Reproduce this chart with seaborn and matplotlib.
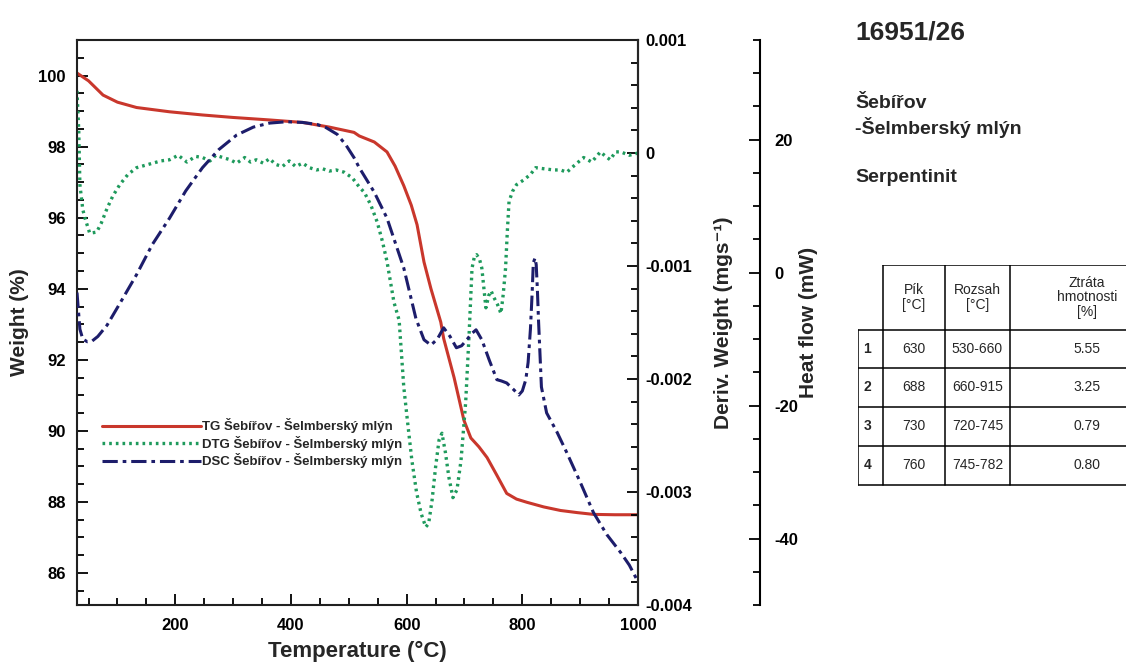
import seaborn as sns
import matplotlib.pyplot as plt
import pandas as pd
import numpy as np
from matplotlib.ticker import MultipleLocator, FixedLocator

# TG curve - weight (%)
tg_temp = [30, 50, 75, 100, 133, 190, 247, 300, 363, 420, 466, 509, 518, 544, 566, 580, 595,
           608, 618, 630, 642, 659, 664, 682, 699, 711, 725, 739, 756, 773, 790, 808, 837, 866,
           895, 923, 960, 1000]
tg_weight = [100.07, 99.85, 99.45, 99.25, 99.1, 98.98, 98.89, 98.82, 98.75, 98.68, 98.55, 98.4,
             98.3, 98.13, 97.85, 97.45, 96.9, 96.35, 95.8, 94.75, 94.0, 93.06, 92.6, 91.5,
             90.3, 89.8, 89.55, 89.25, 88.75, 88.24, 88.08, 87.99, 87.86, 87.76, 87.7, 87.65,
             87.64, 87.64]

# DTG curve - deriv. weight (mg/s)
dtg_temp = [30, 33, 35, 40, 44, 52, 64, 72, 82, 92, 104, 118, 133, 147, 161, 175, 190, 205, 220,
            235, 247, 260, 270, 282, 295, 306, 320, 330, 340, 352, 363, 373, 385, 397, 408, 420,
            432, 444, 455, 466, 478, 492, 506, 518, 527, 538, 549, 558, 566, 578, 587, 595, 602,
            609, 617, 625, 633, 638, 644, 650, 656, 661, 667, 673, 680, 687, 694, 702, 708, 713,
            717, 721, 726, 730, 737, 742, 746, 751, 757, 763, 767, 771, 774, 777, 783, 790, 802,
            814, 823, 838, 854, 866, 877, 890, 906, 920, 935, 944, 952, 961, 970, 985, 1000]
dtg_deriv = [0.00055, 0.0002, -0.00028, -0.0005, -0.00058, -0.00071, -0.0007, -0.00062, -0.00049,
             -0.00038, -0.00028, -0.00019, -0.00013, -0.00011, -0.00009, -0.00007, -0.00006,
             -0.00002, -0.00008, -0.00003, -0.00004, -0.00007, -0.00002, -0.00004, -0.00006,
             -0.00009, -0.00004, -0.00008, -0.00006, -0.00009, -0.00005, -0.0001, -0.00012,
             -0.00007, -0.00012, -0.00009, -0.00013, -0.00015, -0.00014, -0.00016, -0.00015,
             -0.00017, -0.00022, -0.0003, -0.00035, -0.00046, -0.00061, -0.00078, -0.00096,
             -0.00132, -0.00148, -0.00207, -0.0024, -0.00272, -0.003, -0.00319, -0.00331,
             -0.00328, -0.00307, -0.00278, -0.00254, -0.00248, -0.00265, -0.00287, -0.00305,
             -0.00298, -0.00272, -0.00221, -0.00160, -0.00102, -0.00092, -0.0009, -0.00094,
             -0.00102, -0.00137, -0.00126, -0.00122, -0.00128, -0.00134, -0.00142, -0.00125,
             -0.00102, -0.0007, -0.00043, -0.00034, -0.00028, -0.00024, -0.00019, -0.00013,
             -0.00014, -0.00015, -0.00015, -0.00017, -0.00011, -0.00004, -0.00008, 0.00001,
             -0.00003, -0.00006, 0.00001, 0.00001, -0.00002, 0.0]

# DSC curve - heat flow (mW)
dsc_temp = [30, 35, 40, 48, 56, 66, 82, 105, 133, 160, 190, 218, 247, 275, 306, 335, 363, 392,
            420, 445, 461, 480, 495, 509, 518, 544, 566, 595, 616, 630, 642, 653, 664, 675, 686,
            695, 704, 712, 720, 730, 743, 756, 764, 773, 785, 794, 800, 806, 810, 814, 817, 819,
            822, 824, 826, 828, 833, 842, 860, 877, 900, 923, 946, 970, 985, 1000]
dsc_heat = [-3.0, -8.5, -10.0, -10.4, -10.3, -9.6, -7.9, -4.5, -0.3, 4.2, 8.2, 12.3, 15.8, 18.5,
            20.7, 21.9, 22.5, 22.7, 22.6, 22.3, 21.8, 20.8, 19.2, 17.3, 15.8, 12.1, 8.2, 0.7, -6.9,
            -10.1, -10.9, -10.0, -8.3, -9.6, -11.3, -11.0, -10.1, -9.2, -8.6, -10.1, -13.2, -16.1,
            -16.3, -16.6, -17.6, -18.4, -17.8, -16.1, -13.5, -8.5, -3.0, 1.5, 2.2, 1.2, -2.5, -7.2,
            -17.2, -21.1, -24.0, -27.1, -31.5, -36.1, -39.4, -42.1, -44.0, -46.5]

series_labels = ['TG Šebířov - Šelmberský mlýn',
                 'DTG Šebířov - Šelmberský mlýn',
                 'DSC Šebířov - Šelmberský mlýn']

# table values
table_header = ['Pík\n[°C]', 'Rozsah\n[°C]', 'Ztráta\nhmotnosti\n[%]']
table_rows = ['1', '2', '3', '4']
table_peak = ['630', '688', '730', '760']
table_range = ['530-660', '660-915', '720-745', '745-782']
table_loss = ['5.55', '3.25', '0.79', '0.80']

sns.set_theme(style='ticks')
plt.rcParams['font.family'] = ['Liberation Sans', 'DejaVu Sans']
plt.rcParams['font.weight'] = 'bold'
plt.rcParams['axes.labelweight'] = 'bold'
plt.rcParams['axes.unicode_minus'] = False

red = '#c9372c'
green = '#1e9a5c'
navy = '#1d1d6b'

fig = plt.figure(figsize=(11.26, 6.62), dpi=100)
ax = fig.add_axes([77 / 1126, 1 - 605 / 662, 561 / 1126, 565 / 662])
ax2 = ax.twinx()
ax3 = ax.twinx()

sns.lineplot(x=tg_temp, y=tg_weight, ax=ax, color=red, lw=2.2, label=series_labels[0], legend=False)
sns.lineplot(x=dtg_temp, y=dtg_deriv, ax=ax2, color=green, lw=2.4, label=series_labels[1], legend=False)
sns.lineplot(x=dsc_temp, y=dsc_heat, ax=ax3, color=navy, lw=2.2, label=series_labels[2], legend=False)
ax2.lines[0].set_linestyle((0, (0.8, 1.2)))
ax3.lines[0].set_linestyle((0, (5, 1.6, 1.2, 1.6)))

# axis limits and ticks
ax.set_xlim(30, 1000)
ax.set_ylim(85.1, 101.0)
ax2.set_ylim(-0.004, 0.001)
ax3.set_ylim(-50, 35)

ax.xaxis.set_major_locator(FixedLocator([200, 400, 600, 800, 1000]))
ax.xaxis.set_minor_locator(MultipleLocator(50))
ax.yaxis.set_major_locator(MultipleLocator(2))
ax.yaxis.set_minor_locator(MultipleLocator(0.5))
ax2.yaxis.set_major_locator(MultipleLocator(0.001))
ax2.yaxis.set_minor_locator(MultipleLocator(0.0002))
ax2.yaxis.set_major_formatter(plt.FuncFormatter(lambda v, p: '0' if abs(v) < 1e-9 else f'{v:.3f}'))
ax3.yaxis.set_major_locator(MultipleLocator(20))
ax3.yaxis.set_minor_locator(MultipleLocator(5))

for a in (ax, ax2, ax3):
    a.tick_params(which='both', direction='in', width=1.3, colors='black', labelsize=12)
    a.tick_params(which='major', length=8)
    a.tick_params(which='minor', length=5)
ax.tick_params(top=False, right=False, which='both')
ax.tick_params(axis='x', pad=9)
ax.tick_params(axis='y', pad=8)
ax2.tick_params(pad=5)
ax3.tick_params(pad=10)

for s in ax.spines.values():
    s.set_linewidth(1.5)
    s.set_color('black')
ax2.spines['right'].set_linewidth(1.5)
for side in ('top', 'left', 'bottom'):
    ax3.spines[side].set_visible(False)
ax3.spines['right'].set_position(('axes', 1.2175))
ax3.spines['right'].set_linewidth(1.5)
ax3.spines['right'].set_color('black')

ax.set_xlabel('Temperature (°C)', fontsize=16, labelpad=6)
ax.set_ylabel('Weight (%)', fontsize=15, labelpad=7)
ax2.set_ylabel('Deriv. Weight (mgs⁻¹)', fontsize=15, labelpad=16)
ax3.set_ylabel('Heat flow (mW)', fontsize=15, labelpad=1)

handles = ax.lines[:1] + ax2.lines[:1] + ax3.lines[:1]
ax.legend(handles, series_labels, loc='upper left', bbox_to_anchor=(0.035, 0.34), frameon=False,
          handlelength=7.5, handletextpad=0.1, labelspacing=0.2, borderaxespad=0,
          prop={'size': 9.5, 'weight': 'bold'})

# sample description on the right
fig.text(855 / 1126, 1 - 32 / 662, '16951/26', fontsize=19, fontweight='bold', va='center')
fig.text(855 / 1126, 1 - 104 / 662, 'Šebířov', fontsize=14, fontweight='bold', va='center')
fig.text(855 / 1126, 1 - 128 / 662, '-Šelmberský mlýn', fontsize=14, fontweight='bold', va='center')
fig.text(855 / 1126, 1 - 178 / 662, 'Serpentinit', fontsize=14, fontweight='bold', va='center')

# table drawn in its own axes, pixel-like units
tax = fig.add_axes([858 / 1126, 1 - 486 / 662, 320 / 1126, 221 / 662])
tax.set_xlim(858, 1178)
tax.set_ylim(486, 265)
tax.axis('off')
col_edges = [858, 883, 945, 1010, 1165]
row_edges = [265, 330, 368, 407, 446, 485]
lw = 1.1
# header block (without first column)
tax.plot([col_edges[1], col_edges[-1]], [row_edges[0], row_edges[0]], color='black', lw=lw)
tax.plot([col_edges[0], col_edges[-1]], [row_edges[1], row_edges[1]], color='black', lw=lw)
for yy in row_edges[2:]:
    tax.plot([col_edges[0], col_edges[-1]], [yy, yy], color='black', lw=lw)
tax.plot([col_edges[0], col_edges[0]], [row_edges[1], row_edges[-1]], color='black', lw=lw)
for xx in col_edges[1:4]:
    tax.plot([xx, xx], [row_edges[0], row_edges[-1]], color='black', lw=lw)

col_centers = [(col_edges[i] + col_edges[i + 1]) / 2 for i in range(4)]
col_centers[3] = 1087
for j, h in enumerate(table_header):
    tax.text(col_centers[j + 1], (row_edges[0] + row_edges[1]) / 2, h, ha='center', va='center',
             fontsize=10, fontweight='normal', linespacing=1.05)
for i in range(4):
    yc = (row_edges[i + 1] + row_edges[i + 2]) / 2
    tax.text(col_centers[0] - 3, yc, table_rows[i], ha='center', va='center', fontsize=10, fontweight='bold')
    tax.text(col_centers[1], yc, table_peak[i], ha='center', va='center', fontsize=10, fontweight='normal')
    tax.text(col_centers[2], yc, table_range[i], ha='center', va='center', fontsize=10, fontweight='normal')
    tax.text(col_centers[3], yc, table_loss[i], ha='center', va='center', fontsize=10, fontweight='normal')

fig.savefig('out.png', dpi=100)
